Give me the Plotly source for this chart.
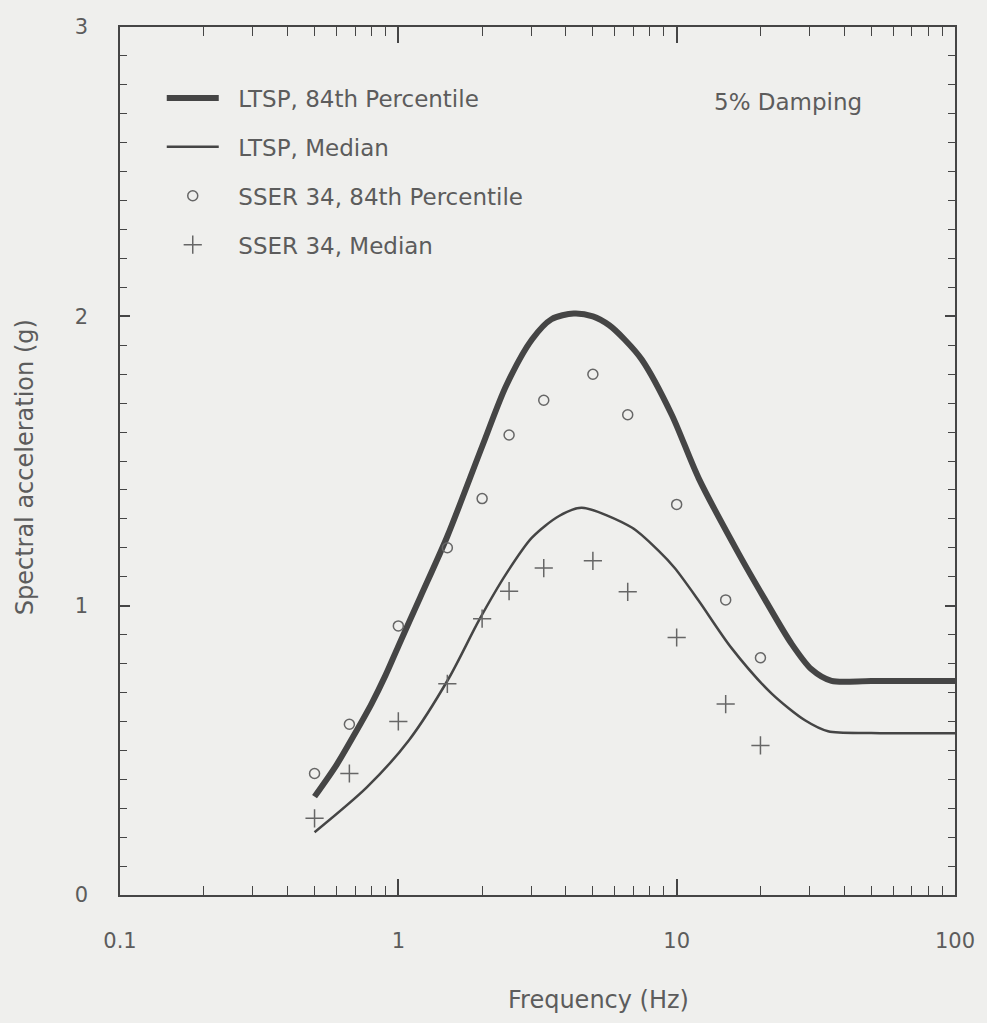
import plotly.graph_objects as go

# LTSP 84th percentile curve
ltsp84_f = [0.5, 0.6, 0.7, 0.8, 0.9, 1.0, 1.2, 1.5, 2.0, 2.44, 3.02, 3.55, 4.27, 5.0, 5.71, 6.5, 7.5, 9.6, 12.0, 16.7, 20.8, 25.8, 30.5, 36.0, 50.0, 100.0]
ltsp84_v = [0.34, 0.45, 0.56, 0.66, 0.76, 0.86, 1.03, 1.24, 1.55, 1.76, 1.92, 1.99, 2.01, 2.00, 1.97, 1.92, 1.85, 1.66, 1.44, 1.18, 1.02, 0.87, 0.78, 0.74, 0.74, 0.74]

# LTSP median curve
ltspmed_f = [0.5, 0.77, 1.09, 1.52, 1.95, 2.44, 3.02, 3.78, 4.56, 6.9, 8.6, 9.84, 12.0, 15.7, 21.9, 29.0, 35.0, 50.0, 100.0]
ltspmed_v = [0.217, 0.372, 0.534, 0.75, 0.95, 1.11, 1.235, 1.31, 1.338, 1.27, 1.19, 1.13, 1.017, 0.855, 0.697, 0.603, 0.566, 0.56, 0.559]

# SSER 34 points
sser_f = [0.5, 0.667, 1.0, 1.5, 2.0, 2.5, 3.33, 5.0, 6.67, 10.0, 15.0, 20.0]
sser84_v = [0.42, 0.59, 0.93, 1.20, 1.37, 1.59, 1.71, 1.80, 1.66, 1.35, 1.02, 0.82]
ssermed_v = [0.265, 0.42, 0.60, 0.73, 0.955, 1.05, 1.13, 1.155, 1.048, 0.89, 0.66, 0.517]

xticks = [0.1, 1, 10, 100]
xticklabels = ["0.1", "1", "10", "100"]
yticks = [0, 1, 2, 3]

INK = "#454545"
TXT = "#5c5c5c"
BG = "#efefed"
FONT = "DejaVu Sans, Verdana, sans-serif"
PAD = "\u00a0\u00a0"

fig = go.Figure()
fig.add_trace(go.Scatter(x=ltsp84_f, y=ltsp84_v, mode="lines", name=PAD + "LTSP, 84th Percentile",
                         line=dict(color=INK, width=6, shape="spline", smoothing=0.8),
                         legendgroup="a"))
fig.add_trace(go.Scatter(x=ltspmed_f, y=ltspmed_v, mode="lines", name=PAD + "LTSP, Median",
                         line=dict(color=INK, width=2.5, shape="spline", smoothing=0.8),
                         legendgroup="b"))
fig.add_trace(go.Scatter(x=sser_f, y=sser84_v, mode="markers", name=PAD + "SSER 34, 84th Percentile",
                         marker=dict(symbol="circle-open", size=10, color="#666", line=dict(width=1.5)),
                         legendgroup="c"))
fig.add_trace(go.Scatter(x=sser_f, y=ssermed_v, mode="markers", name=PAD + "SSER 34, Median",
                         marker=dict(symbol="cross-thin-open", size=13, color="#666", line=dict(width=1.5)),
                         legendgroup="d"))

fig.add_annotation(x=1.40, y=2.74, xref="x", yref="y", text="5% Damping", showarrow=False,
                   font=dict(size=23, color=TXT, family=FONT))
fig.add_annotation(x=0.573, y=-0.121, xref="paper", yref="paper", text="Frequency (Hz)",
                   showarrow=False, xanchor="center", yanchor="middle",
                   font=dict(size=24, color=TXT, family=FONT))
fig.add_annotation(x=-0.1135, y=0.493, xref="paper", yref="paper", text="Spectral acceleration (g)",
                   showarrow=False, xanchor="center", yanchor="middle", textangle=-90,
                   font=dict(size=24, color=TXT, family=FONT))

fig.update_layout(
    width=987, height=1023,
    margin=dict(l=120, r=30, t=27, b=128),
    paper_bgcolor=BG, plot_bgcolor=BG,
    font=dict(family=FONT, color=TXT, size=20),
    legend=dict(x=0.05, y=0.943, xanchor="left", yanchor="top", bgcolor="rgba(0,0,0,0)",
                font=dict(size=23, color=TXT, family=FONT), tracegroupgap=16, itemwidth=52),
    showlegend=True,
)
fig.update_xaxes(type="log", range=[-1, 2], tickvals=xticks, ticktext=xticklabels,
                 ticks="inside", ticklen=16, tickwidth=1.5, tickcolor=INK,
                 minor=dict(ticks="inside", ticklen=9, tickcolor=INK, tickwidth=1.2, dtick="D1"),
                 showline=True, linecolor=INK, linewidth=1.5, mirror="ticks",
                 showgrid=False, zeroline=False, ticklabelstandoff=26,
                 tickfont=dict(size=21, color=TXT, family=FONT))
fig.update_yaxes(range=[0, 3], tickvals=yticks, ticks="inside", ticklen=10, tickwidth=1.5, tickcolor=INK,
                 minor=dict(ticks="inside", ticklen=7, tickcolor=INK, tickwidth=1.2, dtick=0.1),
                 showline=True, linecolor=INK, linewidth=1.5, mirror="ticks",
                 showgrid=False, zeroline=False, ticklabelstandoff=26,
                 tickfont=dict(size=21, color=TXT, family=FONT))

fig.write_html("out.html")
